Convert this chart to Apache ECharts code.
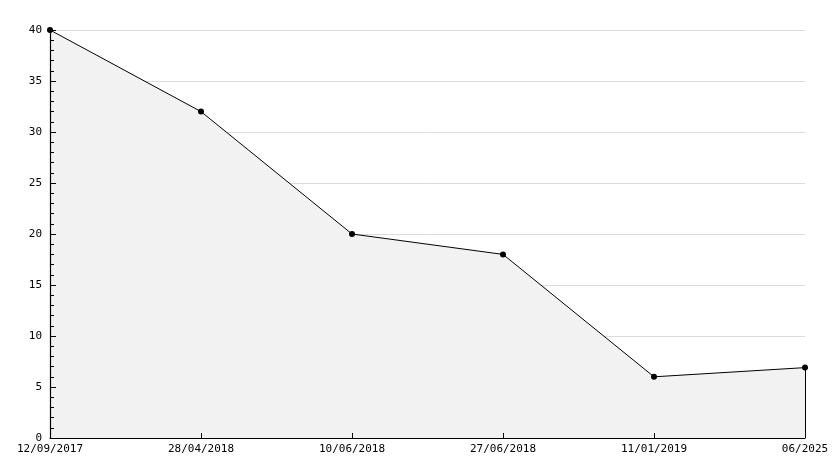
<!DOCTYPE html>
<html>
<head>
<meta charset="utf-8">
<script src="https://cdn.jsdelivr.net/npm/echarts@6/dist/echarts.min.js"></script>
<style>html,body{margin:0;padding:0;background:#fff}#c{width:834px;height:468px}</style>
</head>
<body>
<div id="c"></div>
<script>
const categories = ['12/09/2017', '28/04/2018', '10/06/2018', '27/06/2018', '11/01/2019', '06/2025'];
const values = [40, 32, 20, 18, 6, 6.9];
const yTicks = [0, 5, 10, 15, 20, 25, 30, 35, 40];

const font = 'DejaVu Sans Mono';
const chart = echarts.init(document.getElementById('c'), null, {renderer: 'canvas'});
const last = categories[categories.length - 1];
const yMin = yTicks[0], yMax = yTicks[yTicks.length - 1];
chart.setOption({
  animation: false,
  backgroundColor: '#fff',
  grid: {left: 50, right: 29, top: 30, bottom: 30, containLabel: false},
  xAxis: [{
    type: 'category',
    data: categories,
    boundaryGap: false,
    z: 0,
    axisLine: {show: false},
    axisTick: {show: false},
    axisLabel: {color: '#000', fontFamily: font, fontSize: 11, margin: 6, showMinLabel: true, showMaxLabel: true, interval: 0},
    splitLine: {show: false}
  }, {
    type: 'category',
    data: categories,
    position: 'bottom',
    boundaryGap: false,
    z: 10,
    axisLine: {show: true, onZero: false, lineStyle: {color: '#000', width: 1.2}},
    axisTick: {show: true, inside: true, length: 5, interval: 0, lineStyle: {color: '#000', width: 1}},
    axisLabel: {show: false},
    splitLine: {show: false}
  }],
  yAxis: [{
    type: 'value',
    min: yMin, max: yMax, interval: 5,
    z: 0,
    axisLine: {show: false},
    axisTick: {show: false},
    axisLabel: {color: '#000', fontFamily: font, fontSize: 11, margin: 8},
    splitLine: {show: true, lineStyle: {color: '#dcdcdc', width: 1}}
  }, {
    type: 'value',
    min: yMin, max: yMax, interval: 5,
    position: 'left',
    z: 10,
    axisLine: {show: true, onZero: false, lineStyle: {color: '#000', width: 1.2}},
    axisTick: {show: true, inside: true, length: 6, lineStyle: {color: '#000', width: 1}},
    minorTick: {show: true, splitNumber: 5, length: 4, lineStyle: {color: '#000', width: 1}},
    axisLabel: {show: false},
    splitLine: {show: false}
  }],
  series: [{
    type: 'line',
    data: values,
    xAxisIndex: 0,
    yAxisIndex: 0,
    symbol: 'circle',
    symbolSize: 6,
    z: 5,
    itemStyle: {color: '#000'},
    lineStyle: {color: '#000', width: 1},
    areaStyle: {color: '#f2f2f2', opacity: 1},
    markLine: {
      silent: true,
      symbol: 'none',
      label: {show: false},
      lineStyle: {color: '#000', width: 1, type: 'solid'},
      data: [[{coord: [last, values[values.length - 1]]}, {coord: [last, 0]}]]
    }
  }]
});
</script>
</body>
</html>
